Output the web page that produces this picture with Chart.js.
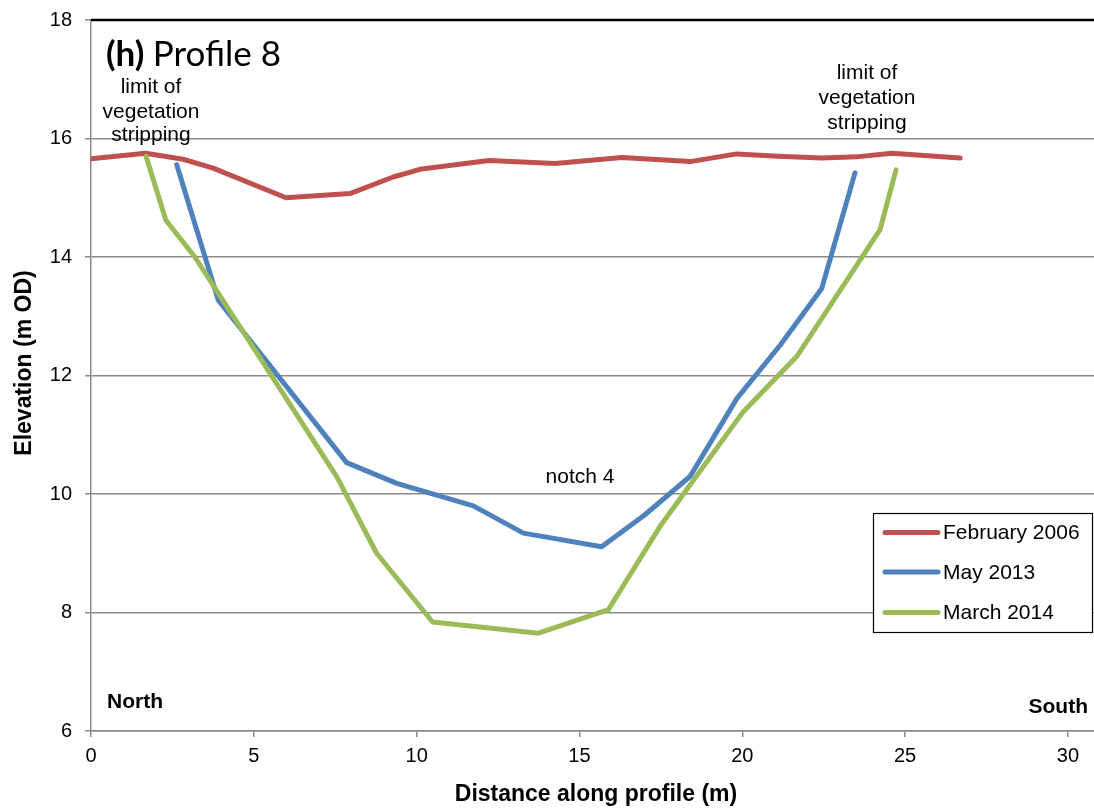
<!DOCTYPE html>
<html>
<head>
<meta charset="utf-8">
<script src="https://cdn.jsdelivr.net/npm/chart.js@4"></script>
<style>
html,body{margin:0;padding:0;background:#fff;}
#wrap{width:1094px;height:808px;position:relative;}
</style>
</head>
<body>
<div id="wrap"><canvas id="c" width="1094" height="808"></canvas></div>
<script>
// ---- data ----
const feb2006X = [0, 1.68, 2.83, 3.75, 5.99, 7.95, 9.28, 10.1, 12.22, 14.25, 16.3, 18.4, 19.83, 21.1, 22.44, 23.52, 24.59, 26.69];
const feb2006Y = [15.66, 15.75, 15.65, 15.50, 15.00, 15.07, 15.35, 15.48, 15.63, 15.58, 15.68, 15.61, 15.74, 15.70, 15.67, 15.69, 15.75, 15.67];

const may2013X = [2.63, 3.91, 7.85, 9.39, 11.74, 13.28, 15.68, 17.01, 18.40, 19.83, 21.16, 22.44, 23.46];
const may2013Y = [15.56, 13.27, 10.53, 10.18, 9.80, 9.34, 9.11, 9.65, 10.30, 11.61, 12.51, 13.47, 15.42];

const mar2014X = [1.69, 2.30, 3.19, 7.55, 8.77, 10.49, 13.74, 15.89, 17.47, 20.03, 21.67, 24.23, 24.72];
const mar2014Y = [15.70, 14.62, 14.00, 10.29, 9.00, 7.84, 7.65, 8.05, 9.45, 11.39, 12.32, 14.46, 15.47];

const seriesNames = ['February 2006', 'May 2013', 'March 2014'];
const xTicks = [0, 5, 10, 15, 20, 25, 30];
const yTicks = [6, 8, 10, 12, 14, 16, 18];

const xTitle = 'Distance along profile (m)';
const yTitle = 'Elevation (m OD)';

function pts(xs, ys){ return xs.map((x,i)=>({x:x, y:ys[i]})); }

const colors = ['#C0504D', '#4F81BD', '#9BBB59'];
const FONT = '"Liberation Sans", Arial, sans-serif';

const overlay = {
  id: 'overlay',
  afterDraw(chart){
    const ctx = chart.ctx;
    const xs = chart.scales.x, ys = chart.scales.y;
    const ca = chart.chartArea;
    ctx.save();
    // top black border
    ctx.strokeStyle = '#000';
    ctx.lineWidth = 2.5;
    ctx.beginPath();
    ctx.moveTo(ca.left, ys.getPixelForValue(18));
    ctx.lineTo(1094, ys.getPixelForValue(18));
    ctx.stroke();

    // panel title
    ctx.fillStyle = '#000';
    ctx.textBaseline = 'alphabetic';
    ctx.textAlign = 'left';
    ctx.font = 'bold 35px Lato, "Open Sans", sans-serif';
    const t1 = '(h)';
    ctx.fillText(t1, 106, 66);
    const w1 = ctx.measureText(t1 + ' ').width;
    ctx.font = '35px Lato, "Open Sans", sans-serif';
    ctx.fillText('Profile 8', 106 + w1, 66);

    // annotations
    ctx.font = '21px ' + FONT;
    ctx.textAlign = 'center';
    ctx.textBaseline = 'middle';
    ctx.fillText('limit of', 151, 87);
    ctx.fillText('vegetation', 151, 112);
    ctx.fillText('stripping', 151, 135);
    ctx.fillText('limit of', 867, 73);
    ctx.fillText('vegetation', 867, 98);
    ctx.fillText('stripping', 867, 123);
    ctx.fillText('notch 4', 580, 477);

    ctx.font = 'bold 21px ' + FONT;
    ctx.textAlign = 'left';
    ctx.fillText('North', 107, 702);
    ctx.textAlign = 'right';
    ctx.fillText('South', 1088, 707);

    // axis titles
    ctx.font = 'bold 23px ' + FONT;
    ctx.textAlign = 'center';
    ctx.fillText(xTitle, 596, 795);
    ctx.save();
    ctx.translate(25, 363);
    ctx.rotate(-Math.PI/2);
    ctx.fillText(yTitle, 0, 0);
    ctx.restore();

    // legend
    const bx = 873.5, by = 513.5, bw = 219, bh = 119;
    ctx.fillStyle = '#fff';
    ctx.fillRect(bx, by, bw, bh);
    ctx.strokeStyle = '#000';
    ctx.lineWidth = 1.2;
    ctx.strokeRect(bx, by, bw, bh);
    const rows = [532.5, 572, 612.5];
    ctx.lineCap = 'round';
    ctx.font = '21px ' + FONT;
    ctx.textAlign = 'left';
    ctx.textBaseline = 'middle';
    for (let i=0;i<3;i++){
      ctx.strokeStyle = colors[i];
      ctx.lineWidth = 5;
      ctx.beginPath();
      ctx.moveTo(885, rows[i]);
      ctx.lineTo(938, rows[i]);
      ctx.stroke();
      ctx.fillStyle = '#000';
      ctx.fillText(seriesNames[i], 943, rows[i] + 1);
    }
    ctx.restore();
  }
};

new Chart(document.getElementById('c'), {
  type: 'scatter',
  data: {
    datasets: [
      { label: seriesNames[0], data: pts(feb2006X, feb2006Y), borderColor: colors[0], backgroundColor: colors[0], order: 2 },
      { label: seriesNames[1], data: pts(may2013X, may2013Y), borderColor: colors[1], backgroundColor: colors[1], order: 1 },
      { label: seriesNames[2], data: pts(mar2014X, mar2014Y), borderColor: colors[2], backgroundColor: colors[2], order: 0 }
    ].map(d => Object.assign(d, { showLine: true, pointRadius: 0, pointHoverRadius: 0, borderWidth: 5, tension: 0, borderCapStyle: 'round', borderJoinStyle: 'round' }))
  },
  options: {
    responsive: false,
    animation: false,
    devicePixelRatio: 1,
    events: [],
    layout: { padding: { left: 0, right: 0, top: 20, bottom: 0 } },
    plugins: { legend: { display: false }, tooltip: { enabled: false }, title: { display: false } },
    scales: {
      x: {
        type: 'linear', min: 0, max: 30.8,
        afterBuildTicks(s){ s.ticks = xTicks.map(v => ({ value: v })); },
        afterFit(s){ s.height = 77; s.paddingLeft = 0; s.paddingRight = 0; },
        grid: { drawOnChartArea: false, drawTicks: true, tickLength: 6, color: '#8a8a8a', lineWidth: 1.5 },
        border: { color: '#8a8a8a', width: 1.5 },
        ticks: { color: '#000', font: { family: FONT, size: 20 }, padding: 7, maxRotation: 0, autoSkip: false }
      },
      y: {
        type: 'linear', min: 6, max: 18,
        afterBuildTicks(s){ s.ticks = yTicks.map(v => ({ value: v })); },
        afterFit(s){ s.width = 91; s.paddingTop = 0; s.paddingBottom = 0; },
        grid: { color: '#8a8a8a', lineWidth: 1.5, tickLength: 6, tickColor: '#8a8a8a' },
        border: { color: '#8a8a8a', width: 1.5 },
        ticks: { color: '#000', font: { family: FONT, size: 20 }, padding: 13, autoSkip: false }
      }
    }
  },
  plugins: [overlay]
});
</script>
</body>
</html>
